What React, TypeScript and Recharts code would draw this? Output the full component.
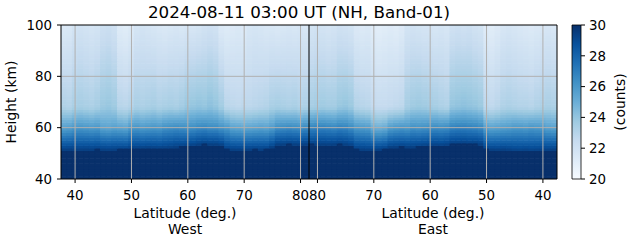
import React from "react";
import { ComposedChart, Bar, XAxis, YAxis, ReferenceLine } from "recharts";

// column centres (deg), left half = West, right half = East (as drawn)
const westLat = [38, 39, 40, 41, 42, 43, 44, 45, 46, 47, 48, 49, 50, 51, 52, 53, 54, 55, 56, 57, 58, 59,
  60, 61, 62, 63, 64, 65, 66, 67, 68, 69, 70, 71, 72, 73, 74, 75, 76, 77, 78, 79, 80, 81];
const eastLat = [81, 80, 79, 78, 77, 76, 75, 74, 73, 72, 71, 70, 69, 68, 67, 66, 65, 64, 63, 62, 61, 60,
  59, 58, 57, 56, 55, 54, 53, 52, 51, 50, 49, 48, 47, 46, 45, 44, 43, 42, 41, 40, 39, 38];

// height (km) where the saturated (>=30 counts) layer ends
const westEdgeKm = [51.4, 51.5, 51.5, 51.4, 51.5, 51.5, 51.6, 51.5, 51.4, 51.5, 51.6, 51.6,
  51.9, 52, 52, 52.1, 52, 51.9, 52, 52.2, 52.5, 52.6, 52.8, 53,
  53.4, 53.6, 53.5, 53.5, 53.2, 51.6, 51.5, 51.4, 51.5, 51.5, 51.6, 51.5, 51.6, 52.4,
  53.4, 53.5, 53.6, 53.5, 53.4, 53.5];
const eastEdgeKm = [53.6, 53.5, 53.5, 53.4, 53.5, 53.6, 53.4, 53.0, 51.6, 51.5, 51.4, 51.5, 51.5, 51.7,
  52.4, 52.5, 52.6, 52.5, 52.5, 52.6, 52.8, 53.0, 53.1, 53.0, 53.2,
  53.8, 53.8, 53.9, 53.7, 53.8, 53.5, 51.6, 51.5, 51.4, 51.5, 51.3,
  51.0, 50.9, 51.1, 50.8, 51.0, 51.2, 51.3, 51.4];

// counts at 60 km
const westC60 = [25.6, 25.7, 26, 26.1, 26, 25.9, 26, 25.5, 25.4, 25.6, 25.5, 25.4,
  26, 26.1, 25.9, 26, 26.1, 26, 26.3, 26.4, 26.5, 26.4, 26.3, 26.4,
  26.6, 26.7, 26.5, 26.5, 26.2, 26, 25.5, 25.4, 25.3, 25.4, 25.5, 25.6, 25.5, 25.8,
  26.4, 26.5, 26.6, 26.5, 26.4, 26.6];
const eastC60 = [26.8, 26.9, 26.9, 26.8, 26.7, 26.9, 26.8, 26.5, 26, 25.9, 25.8, 25.0, 24.9, 25.1,
  25.8, 26, 26.1, 26, 26.3, 26.2, 26.3, 26.4, 26.5, 26.4, 26.5,
  26.9, 27, 27, 26.9, 26.8, 26.6, 25.6, 25.5, 25.6, 25.7, 25.8,
  26, 26, 25.9, 26.1, 26, 25.9, 25.6, 25.5];

// counts at 68 km
const westC68 = [23.2, 23.1, 23.4, 23.5, 23.4, 23.3, 23.5, 23.8, 23.9, 23.7, 23.0, 22.9, 23.1,
  23.4, 23.3, 23.4, 23.5, 23.3, 23.4, 23.5, 23.4, 23.6,
  23.9, 24.0, 24.1, 24.0, 24.2, 24.0, 23.6, 22.9, 22.8, 22.7, 22.8, 22.8, 22.9, 23.0, 23.1,
  23.4, 23.5, 23.4, 23.3, 23.4, 23.2, 23.3];
const eastC68 = [23.5, 23.6, 23.7, 23.6, 23.6, 23.9, 24.0, 23.8, 23.1, 23.0, 22.9,
  22.6, 22.5, 22.5, 22.6, 22.7, 22.8, 23.5, 23.7, 23.8, 23.7, 23.6, 23.5, 23.3, 23.2,
  24.0, 24.1, 24.2, 24.1, 24.0, 23.8, 22.8, 22.7, 22.9, 23.2, 23.3, 23.2, 23.1,
  23.1, 23.0, 23.2, 23.3, 23.4, 23.3];

// counts at 100 km
const westC100 = [21.4, 21.5, 21.8, 21.9, 21.8, 21.7, 21.8, 22.1, 22.2, 22.0, 21.2, 21.1, 21.3,
  21.7, 21.8, 21.7, 21.6, 21.5, 21.4, 21.5, 21.6, 21.5, 21.6, 21.6, 21.7,
  21.9, 22.0, 21.9, 21.3, 21.2, 21.3, 21.4, 21.3, 21.6, 21.7, 21.6, 21.5,
  21.5, 21.4, 21.5, 21.6, 21.5, 21.6, 21.5];
const eastC100 = [21.8, 21.9, 21.8, 21.7, 21.8, 22.0, 21.9, 21.8, 21.4, 21.3, 21.4,
  21.1, 21.0, 21.1, 21.2, 21.1, 21.3, 21.8, 21.9, 21.8, 21.7, 21.7, 21.6, 21.7, 21.6,
  22.0, 22.1, 22.0, 22.1, 21.9, 21.8, 21.2, 21.1, 21.3, 21.6, 21.7, 21.6, 21.5,
  21.4, 21.3, 21.4, 21.5, 21.6, 21.5];

const westTicks = [40, 50, 60, 70, 80];
const eastTicks = [80, 70, 60, 50, 40];
const heightTicks = [40, 60, 80, 100];
const cbarTicks = [20, 22, 24, 26, 28, 30];

const BLUES = ["#f7fbff", "#deebf7", "#c6dbef", "#9ecae1", "#6baed6", "#4292c6", "#2171b5", "#08519c", "#08306b"];

function hex(c: string) {
  return [1, 3, 5].map((k) => parseInt(c.slice(k, k + 2), 16));
}
function blues(v: number) {
  const t = Math.max(0, Math.min(1, (v - 20) / 10)) * 8;
  const i = Math.min(7, Math.floor(t));
  const f = t - i;
  const a = hex(BLUES[i]);
  const b = hex(BLUES[i + 1]);
  const m = a.map((x, k) => Math.round(x + (b[k] - x) * f));
  return `rgb(${m[0]},${m[1]},${m[2]})`;
}

type Col = { lat: number; edge: number; c60: number; c68: number; c100: number };

// vertical profile through the read anchors
function countsAt(c: Col, h: number) {
  if (h < c.edge) return 31;
  if (h < 60) return 29.4 + ((c.c60 - 29.4) * (h - c.edge)) / (60 - c.edge);
  if (h < 68) return c.c60 + ((c.c68 - c.c60) * (h - 60)) / 8;
  return c.c68 + ((c.c100 - c.c68) * (h - 68)) / 32;
}

const cols: Col[] = [
  ...westLat.map((lat, i) => ({ lat, edge: westEdgeKm[i], c60: westC60[i], c68: westC68[i], c100: westC100[i] })),
  ...eastLat.map((lat, i) => ({ lat, edge: eastEdgeKm[i], c60: eastC60[i], c68: eastC68[i], c100: eastC100[i] })),
];

const rowKm = Array.from({ length: 60 }, (_, i) => 40 + i); // 1 km cells

const data = cols.map((c, j) => {
  const row: Record<string, number> = { pos: j + 0.5, base: 40 };
  rowKm.forEach((h, i) => {
    row[`r${i}`] = 1;
    row[`v${i}`] = countsAt(c, h + 0.5);
  });
  return row;
});

const NW = westLat.length;
const tickPos = [
  ...westTicks.map((l) => westLat.indexOf(l) + 0.5),
  ...eastTicks.map((l) => NW + eastLat.indexOf(l) + 0.5),
];
const tickLabel: Record<string, string> = {};
tickPos.forEach((p, k) => (tickLabel[String(p)] = String([...westTicks, ...eastTicks][k])));

const cbarData = [{ name: "counts", range: [20, 30] }];

const font = "DejaVu Sans";
const tickStyle = { fill: "#000", fontSize: 13.4, fontFamily: font };
const labelSize = 13.9;

export default function App() {
  return (
    <div style={{ position: "absolute", left: 0, top: 0, width: 631, height: 243, fontFamily: font, color: "#000", background: "#fff" }}>
      <div style={{ position: "absolute", left: 0, top: 0 }}>
        <ComposedChart
          width={631}
          height={243}
          data={data}
          margin={{ top: 25, right: 74, bottom: 34, left: 1 }}
          barCategoryGap={0}
          barGap={0}
        >
          <XAxis
            dataKey="pos"
            type="number"
            domain={[0, cols.length]}
            ticks={tickPos}
            interval={0}
            tickFormatter={(v: number) => tickLabel[String(v)] ?? ""}
            tick={tickStyle}
            tickSize={4}
            tickMargin={7}
            stroke="#000"
            height={30}
            allowDataOverflow
          />
          <YAxis
            type="number"
            domain={[40, 100]}
            ticks={heightTicks}
            tick={tickStyle}
            tickSize={4}
            tickMargin={5}
            stroke="#000"
            width={60}
            allowDataOverflow
          />
          <Bar dataKey="base" stackId="s" isAnimationActive={false} shape={() => <g />} />
          {rowKm.map((_, i) => (
            <Bar
              key={i}
              dataKey={`r${i}`}
              stackId="s"
              isAnimationActive={false}
              shape={(p: any) => (
                <rect
                  x={p.x - 0.4}
                  y={p.y - 0.3}
                  width={p.width + 0.8}
                  height={p.height + 0.6}
                  fill={blues(p.payload[`v${i}`])}
                />
              )}
            />
          ))}
          {tickPos.map((p) => (
            <ReferenceLine key={`gx${p}`} x={p} stroke="#b0b0b0" strokeWidth={1} />
          ))}
          {[60, 80].map((h) => (
            <ReferenceLine key={`gy${h}`} y={h} stroke="#b0b0b0" strokeWidth={1} />
          ))}
          <ReferenceLine x={NW} stroke="#000" strokeWidth={1} />
          <ReferenceLine x={cols.length} stroke="#000" strokeWidth={1} />
          <ReferenceLine y={100} stroke="#000" strokeWidth={1} />
        </ComposedChart>
      </div>

      <div style={{ position: "absolute", left: 560, top: 0 }}>
        <ComposedChart
          width={71}
          height={243}
          data={cbarData}
          margin={{ top: 25, right: 10, bottom: 64, left: 12 }}
          barCategoryGap={0}
        >
          <defs>
            <linearGradient id="bluesGrad" x1="0" y1="1" x2="0" y2="0">
              {BLUES.map((c, i) => (
                <stop key={i} offset={`${(i / 8) * 100}%`} stopColor={c} />
              ))}
            </linearGradient>
          </defs>
          <XAxis dataKey="name" type="category" hide height={0} />
          <YAxis
            orientation="right"
            type="number"
            domain={[20, 30]}
            ticks={cbarTicks}
            tick={tickStyle}
            tickSize={4}
            tickMargin={4}
            stroke="#000"
            axisLine={false}
            width={40}
          />
          <Bar dataKey="range" fill="url(#bluesGrad)" stroke="#000" strokeWidth={0.8} isAnimationActive={false} />
        </ComposedChart>
      </div>

      <div style={{ position: "absolute", left: 299, top: 2, transform: "translateX(-50%)", fontSize: 16.7, whiteSpace: "nowrap" }}>
        2024-08-11 03:00 UT (NH, Band-01)
      </div>
      <div style={{ position: "absolute", left: 11, top: 102, transform: "translate(-50%,-50%) rotate(-90deg)", fontSize: labelSize, whiteSpace: "nowrap" }}>
        Height (km)
      </div>
      <div style={{ position: "absolute", left: 185, top: 205, transform: "translateX(-50%)", fontSize: labelSize, lineHeight: "16px", textAlign: "center", whiteSpace: "nowrap" }}>
        Latitude (deg.)<br />West
      </div>
      <div style={{ position: "absolute", left: 433, top: 205, transform: "translateX(-50%)", fontSize: labelSize, lineHeight: "16px", textAlign: "center", whiteSpace: "nowrap" }}>
        Latitude (deg.)<br />East
      </div>
      <div style={{ position: "absolute", left: 620, top: 102, transform: "translate(-50%,-50%) rotate(-90deg)", fontSize: labelSize, whiteSpace: "nowrap" }}>
        (counts)
      </div>
    </div>
  );
}
